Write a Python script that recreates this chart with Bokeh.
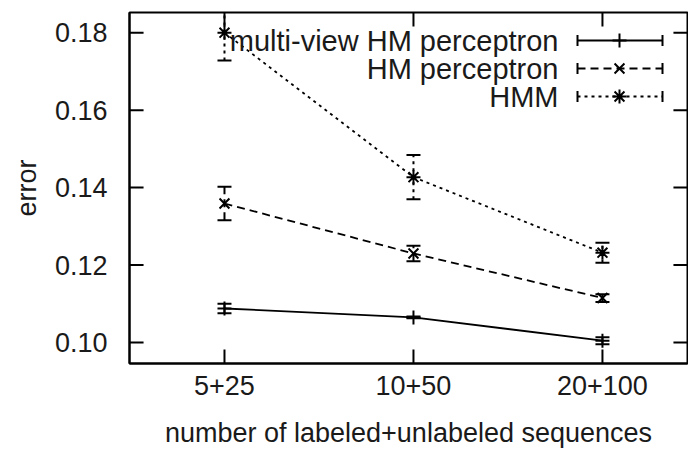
import math
from bokeh.plotting import figure
from bokeh.models import Range1d, FixedTicker, NumeralTickFormatter, Label
from bokeh.embed import file_html
from bokeh.resources import INLINE

# ---- data ----
categories = ["5+25", "10+50", "20+100"]
series_names = ["multi-view HM perceptron", "HM perceptron", "HMM"]
mv_err = [0.1088, 0.1065, 0.1005]
mv_sd = [0.0012, 0.0002, 0.0009]
hm_err = [0.1359, 0.1230, 0.1115]
hm_sd = [0.0043, 0.0020, 0.0010]
hmm_err = [0.1800, 0.1427, 0.1232]
hmm_sd = [0.0072, 0.0057, 0.0026]
y_ticks = [0.10, 0.12, 0.14, 0.16, 0.18]

FONT = "Liberation Sans"
FS = "27px"
LEG_FS = "29px"
x_idx = list(range(len(categories)))

X0, X1 = -0.5026, 2.45
Y0, Y1 = 0.0946, 0.1852
FRAME_W, FRAME_H = 558, 351
p = figure(width=688, height=451, x_range=Range1d(X0, X1),
           y_range=Range1d(Y0, Y1), output_backend="svg",
           toolbar_location=None, min_border_left=129, min_border_right=1,
           min_border_top=12, min_border_bottom=88)
p.extra_x_ranges = {"px": Range1d(0, FRAME_W)}
p.extra_y_ranges = {"px": Range1d(0, FRAME_H)}
p.grid.visible = False
p.outline_line_color = "black"
p.outline_line_width = 2
p.background_fill_color = "white"
p.border_fill_color = "white"

for ax in (p.xaxis[0], p.yaxis[0]):
    ax.major_tick_in = 0
    ax.major_tick_out = 0
    ax.minor_tick_line_color = None
    ax.axis_line_width = 2
    ax.axis_line_color = "black"
    ax.major_label_text_font = FONT
    ax.major_label_text_font_size = FS
    ax.major_label_text_color = "#1a1a1a"
    ax.axis_label_text_font = FONT
    ax.axis_label_text_font_style = "normal"
    ax.axis_label_text_color = "#1a1a1a"
    ax.axis_label_text_font_size = FS

p.xaxis.ticker = FixedTicker(ticks=x_idx)
p.xaxis.major_label_overrides = {i: c for i, c in enumerate(categories)}
p.xaxis.axis_label = "number of labeled+unlabeled sequences"
p.xaxis.major_label_standoff = 12
p.xaxis.axis_label_standoff = 20

p.yaxis.ticker = FixedTicker(ticks=y_ticks)
p.yaxis.formatter = NumeralTickFormatter(format="0.00")
p.yaxis.axis_label = "error"
p.yaxis.major_label_standoff = 22
p.yaxis.axis_label_standoff = 10

# inward tick marks on all four sides: short rays starting just inside the frame
ex = (X1 - X0) * 1e-4
ey = (Y1 - Y0) * 1e-4
TK = dict(length=14, length_units="screen", line_color="black", line_width=2)
p.ray(x=[X0 + ex] * len(y_ticks), y=y_ticks, angle=0, **TK)
p.ray(x=[X1 - ex] * len(y_ticks), y=y_ticks, angle=math.pi, **TK)
p.ray(x=x_idx, y=[Y0 + ey] * len(x_idx), angle=math.pi / 2, **TK)
p.ray(x=x_idx, y=[Y1 - ey] * len(x_idx), angle=-math.pi / 2, **TK)

styles = [
    dict(vals=mv_err, sd=mv_sd, dash="solid", marker="cross"),
    dict(vals=hm_err, sd=hm_sd, dash="8 5", marker="x"),
    dict(vals=hmm_err, sd=hmm_sd, dash="3 4", marker="asterisk"),
]
LW = 1.8
for st in styles:
    vals, sd = st["vals"], st["sd"]
    lo = [v - s for v, s in zip(vals, sd)]
    hi = [v + s for v, s in zip(vals, sd)]
    p.line(x_idx, vals, line_color="black", line_width=LW, line_dash=st["dash"])
    p.segment(x0=x_idx, y0=lo, x1=x_idx, y1=hi, line_color="black",
              line_width=2, line_dash=st["dash"])
    p.scatter(x_idx, lo, marker="dash", size=14, line_color="black", line_width=2)
    p.scatter(x_idx, hi, marker="dash", size=14, line_color="black", line_width=2)
    p.scatter(x_idx, vals, marker=st["marker"], size=14, line_color="black",
              line_width=2)

# ---- legend (frame-pixel coordinates) ----
row_y = [323, 295, 267]
for name, st, ry in zip(series_names, styles, row_y):
    p.add_layout(Label(x=429, y=ry, text=name, text_align="right",
                       text_baseline="middle", text_font=FONT,
                       text_font_size=LEG_FS, text_color="#1a1a1a",
                       x_range_name="px", y_range_name="px"))
    p.segment(x0=[448], y0=[ry], x1=[533], y1=[ry], line_color="black",
              line_width=LW, line_dash=st["dash"],
              x_range_name="px", y_range_name="px")
    p.scatter([448, 533], [ry, ry], marker="dash", angle=math.pi / 2, size=11,
              line_color="black", line_width=2,
              x_range_name="px", y_range_name="px")
    p.scatter([490], [ry], marker=st["marker"], size=14, line_color="black",
              line_width=2, x_range_name="px", y_range_name="px")

open("out.html", "w").write(file_html(p, INLINE))
